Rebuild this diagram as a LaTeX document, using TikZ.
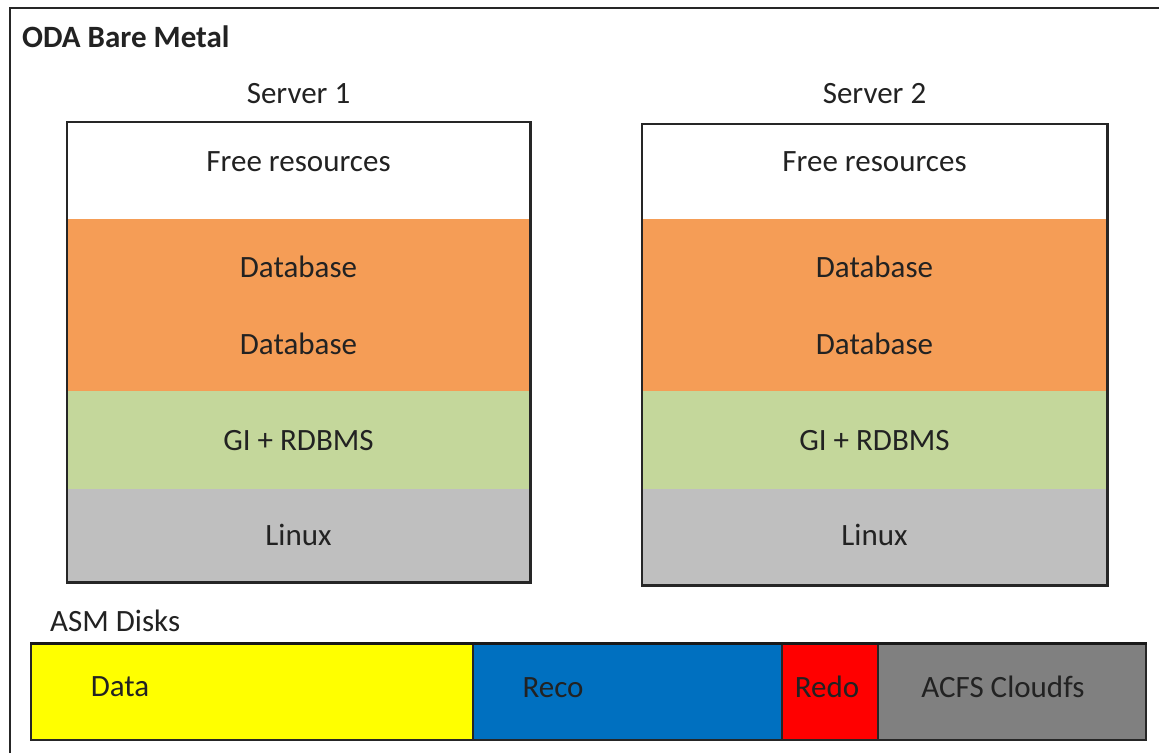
\documentclass[tikz,border=0pt]{standalone}
\usepackage{fontspec}
\setmainfont{Carlito}
\definecolor{dborange}{HTML}{F59D56}
\definecolor{gigreen}{HTML}{C4D79B}
\definecolor{osgray}{HTML}{BFBFBF}
\definecolor{datayellow}{HTML}{FFFF00}
\definecolor{recoblue}{HTML}{0070C0}
\definecolor{redored}{HTML}{FF0000}
\definecolor{acfsgray}{HTML}{808080}
\definecolor{txt}{HTML}{222222}
\begin{document}
\begin{tikzpicture}[x=1pt,y=-1pt,
  every node/.style={font=\fontsize{31}{37}\selectfont, text=txt},
  band/.style={rectangle, inner sep=0pt, anchor=north west, draw=none},
  lbl/.style={inner sep=0pt, anchor=base},
  outline/.style={draw=black!85, line width=2.2pt},
  cell/.style={rectangle, inner sep=0pt, anchor=north west, draw=black!85, line width=1.8pt, minimum height=96pt}
]
\useasboundingbox (0,0) rectangle (1159,753);
\fill[white] (0,0) rectangle (1159,753);
% outer frame (open on right and bottom)
\coordinate (ftl) at (10,8);
\coordinate (ftr) at (1159,8);
\coordinate (fbl) at (10,753);
\draw[black!85, line width=2.6pt] (fbl) -- (ftl) -- (ftr);
\node[lbl, anchor=base west, font=\bfseries\fontsize{31}{37}\selectfont] (title) at (22,47) {ODA Bare Metal};

% servers
\foreach \n/\x/\w/\t/\b/\c in {1/67/463/122/582/298.5, 2/642/465/124/585/874.5}{
  \node[band, fill=white, minimum width=\w pt, minimum height={(219-\t)*1pt}] (s\n free) at (\x,\t) {};
  \node[band, fill=dborange, minimum width=\w pt, minimum height=172pt] (s\n db) at (\x,219) {};
  \node[band, fill=gigreen, minimum width=\w pt, minimum height=98pt] (s\n gi) at (\x,391) {};
  \node[band, fill=osgray, minimum width=\w pt, minimum height={(\b-489)*1pt}] (s\n os) at (\x,489) {};
  \draw[outline] (s\n free.north west) rectangle (s\n os.south east);
  \node[lbl] (s\n title) at (\c,103) {Server \n};
  \node[lbl] (s\n freel) at (\c,171) {Free resources};
  \node[lbl] (s\n dba) at (\c,277) {Database};
  \node[lbl] (s\n dbb) at (\c,354) {Database};
  \node[lbl] (s\n gil) at (\c,450) {GI + RDBMS};
  \node[lbl] (s\n osl) at (\c,545) {Linux};
}

% ASM disks
\node[lbl, anchor=base west] (asm) at (50,631) {ASM Disks};
\node[cell, fill=datayellow, minimum width=442pt] (data) at (30,643) {};
\node[cell, fill=recoblue, minimum width=309pt] (reco) at (472,643) {};
\node[cell, fill=redored, minimum width=96pt] (redo) at (781,643) {};
\node[cell, fill=acfsgray, minimum width=268pt] (acfs) at (877,643) {};
\draw[black!90, line width=3pt] (data.north west) -- (acfs.north east);
\node[lbl] (datal) at (120,696) {Data};
\node[lbl] (recol) at (553,697) {Reco};
\node[lbl] (redol) at (827,697) {Redo};
\node[lbl] (acfsl) at (1003,697) {ACFS Cloudfs};
\end{tikzpicture}
\end{document}
